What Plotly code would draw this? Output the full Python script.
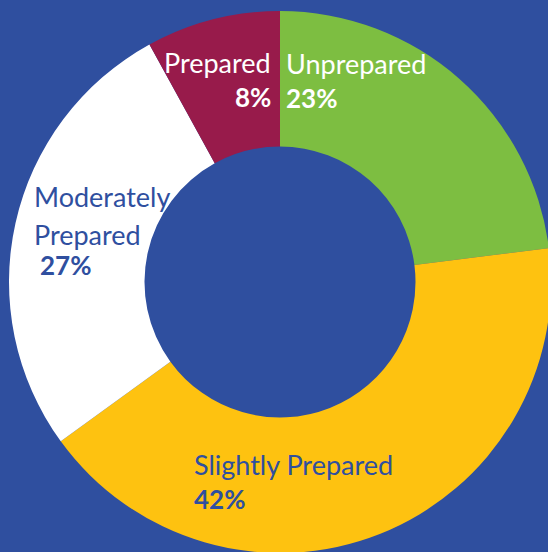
import plotly.graph_objects as go

# Preparedness survey shares
categories = ["Unprepared", "Slightly Prepared", "Moderately Prepared", "Prepared"]
shares = [23, 42, 27, 8]
label_lines = [["Unprepared"], ["Slightly Prepared"], ["Moderately", "Prepared"], ["Prepared"]]

BG = "#2F4F9F"
slice_colors = ["#7DBE41", "#FEC210", "#FFFFFF", "#981B4B"]
text_colors = ["#FFFFFF", BG, BG, "#FFFFFF"]

W, H = 560, 560
FONT = "Lato"
NAME_SIZE = 27
PCT_SIZE = 26
PAD = 3  # annotation box padding in px

# donut geometry in pixels (centre and outer radius)
cx, cy, r = 280, 282, 271

fig = go.Figure(
    go.Pie(
        labels=categories,
        values=shares,
        hole=0.5,
        sort=False,
        direction="clockwise",
        rotation=0,
        marker=dict(colors=slice_colors, line=dict(width=0)),
        textinfo="none",
        hoverinfo="label+percent",
        showlegend=False,
        domain=dict(x=[(cx - r) / W, (cx + r) / W],
                    y=[1 - (cy + r) / H, 1 - (cy - r) / H]),
    )
)

# per label: x edge, alignment, baselines of name lines, x edge and baseline of percent
label_layout = [
    (287, "left", [73], 287, 107),
    (195, "left", [474], 195, 508),
    (35, "left", [206, 244], 41, 274),
    (270, "right", [72], 270, 106),
]


def place(text, px, baseline, align, size, color, weight):
    shift = -PAD if align == "left" else PAD
    return dict(
        x=(px + shift) / W, y=1 - (baseline - 0.36 * size) / H,
        xref="paper", yref="paper", text=text, showarrow=False,
        xanchor=align, yanchor="middle",
        font=dict(family=FONT, size=size, color=color, weight=weight),
    )


annotations = []
for lines, share, color, (px, align, bases, ppx, pbase) in zip(
        label_lines, shares, text_colors, label_layout):
    for line, base in zip(lines, bases):
        annotations.append(place(line, px, base, align, NAME_SIZE, color, 400))
    annotations.append(place(f"{share}%", ppx, pbase, align, PCT_SIZE, color, 700))

fig.update_layout(
    width=W, height=H,
    margin=dict(l=0, r=0, t=0, b=0),
    paper_bgcolor=BG, plot_bgcolor=BG,
    annotations=annotations,
)

fig.write_html(
    "out.html",
    post_script="document.documentElement.style.overflow='hidden';"
                "document.body.style.overflow='hidden';document.body.style.margin='0';"
                "document.body.style.background='" + BG + "';",
)
